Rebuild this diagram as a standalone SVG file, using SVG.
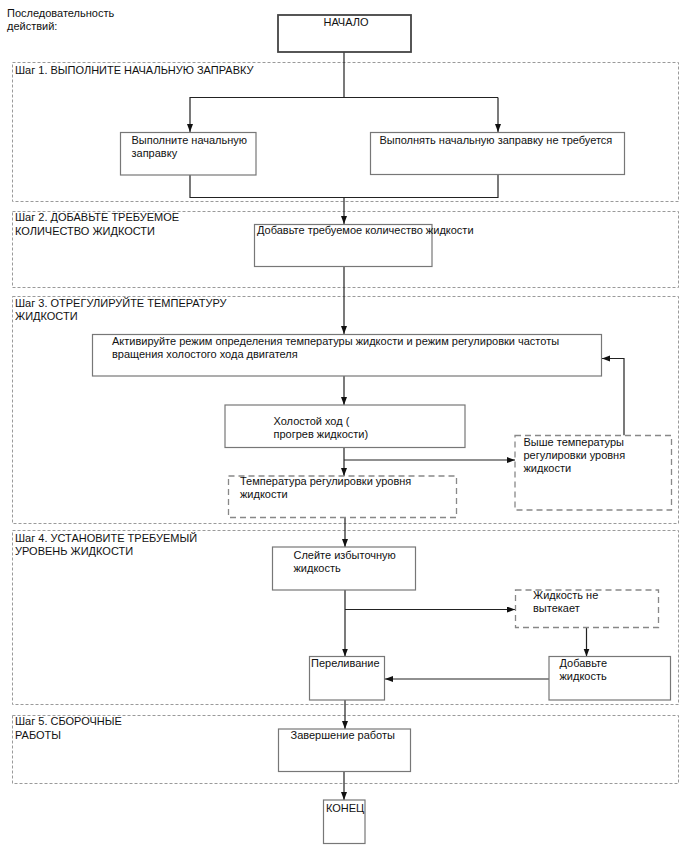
<svg xmlns="http://www.w3.org/2000/svg" width="688" height="852" viewBox="0 0 688 852">
<defs>
<marker id="arr" markerWidth="9" markerHeight="7" refX="8" refY="3" orient="auto" markerUnits="userSpaceOnUse">
<path d="M0,0 L8,3 L0,6 z" fill="#111"/>
</marker>
<style>
text{font-family:"Liberation Sans",Arial,sans-serif;font-size:11px;fill:#111}
.step{fill:none;stroke:#9a9a9a;stroke-width:1;stroke-dasharray:3,2}
.node{fill:#fff;stroke:#777;stroke-width:1.2}
.dnode{fill:#fff;stroke:#888;stroke-width:1.3;stroke-dasharray:6,4}
.start{fill:#fff;stroke:#444;stroke-width:1.8}
.c{fill:none;stroke:#222;stroke-width:1.2}
.ca{fill:none;stroke:#222;stroke-width:1.2;marker-end:url(#arr)}
</style>
</defs>
<rect width="688" height="852" fill="#fff"/>

<g id="header">
<text x="7" y="17">Последовательность</text>
<text x="7" y="30">действий:</text>
</g>

<g id="step1">
<rect class="step" x="12.5" y="62.5" width="666" height="139"/>
<text x="15" y="74">Шаг 1. ВЫПОЛНИТЕ НАЧАЛЬНУЮ ЗАПРАВКУ</text>
</g>
<g id="step2">
<rect class="step" x="12.5" y="211.5" width="666" height="76"/>
<text x="15" y="221">Шаг 2. ДОБАВЬТЕ ТРЕБУЕМОЕ</text>
<text x="15" y="234.5">КОЛИЧЕСТВО ЖИДКОСТИ</text>
</g>
<g id="step3">
<rect class="step" x="12.5" y="296.5" width="666" height="227"/>
<text x="15" y="307">Шаг 3. ОТРЕГУЛИРУЙТЕ ТЕМПЕРАТУРУ</text>
<text x="15" y="320">ЖИДКОСТИ</text>
</g>
<g id="step4">
<rect class="step" x="12.5" y="530.5" width="666" height="174"/>
<text x="15" y="542">Шаг 4. УСТАНОВИТЕ ТРЕБУЕМЫЙ</text>
<text x="15" y="555">УРОВЕНЬ ЖИДКОСТИ</text>
</g>
<g id="step5">
<rect class="step" x="12.5" y="715.5" width="666" height="68"/>
<text x="15" y="725">Шаг 5. СБОРОЧНЫЕ</text>
<text x="15" y="738.5">РАБОТЫ</text>
</g>

<g id="connectors">
<path class="c" d="M344,52 V97.5 H498"/>
<path class="ca" d="M344,97.5 H190 V132"/>
<path class="ca" d="M498,97.5 V132"/>
<path class="c" d="M190,175 V197.5 H498 V174"/>
<path class="ca" d="M344,197.5 V224"/>
<path class="ca" d="M344,266.5 V334"/>
<path class="ca" d="M344,376 V405"/>
<path class="ca" d="M344,447.5 V476"/>
<path class="ca" d="M344,460 H515"/>
<path class="ca" d="M624,435.5 V358.5 H602"/>
<path class="ca" d="M345,517.5 V547"/>
<path class="ca" d="M345,590 V656.5"/>
<path class="ca" d="M345,609.5 H515"/>
<path class="ca" d="M586.5,627.5 V656.5"/>
<path class="ca" d="M549,679 H385"/>
<path class="ca" d="M345,700 V729"/>
<path class="ca" d="M344,771.5 V800"/>
</g>

<g id="start">
<rect class="start" x="278" y="15" width="133" height="37"/>
<text x="346" y="26" text-anchor="middle">НАЧАЛО</text>
</g>
<g id="n-fill">
<rect class="node" x="120.5" y="132.5" width="135.5" height="42.5"/>
<text x="131.5" y="144">Выполните начальную</text>
<text x="131.5" y="157">заправку</text>
</g>
<g id="n-nofill">
<rect class="node" x="370.5" y="132.5" width="254" height="42"/>
<text x="379.5" y="143.5">Выполнять начальную заправку не требуется</text>
</g>
<g id="n-add">
<rect class="node" x="254.5" y="224.5" width="177.5" height="42"/>
<text x="257" y="234">Добавьте требуемое количество жидкости</text>
</g>
<g id="n-activate">
<rect class="node" x="92.5" y="334.5" width="509" height="41.5"/>
<text x="112" y="345">Активируйте режим определения температуры жидкости и режим регулировки частоты</text>
<text x="112" y="358">вращения холостого хода двигателя</text>
</g>
<g id="n-idle">
<rect class="node" x="225" y="405" width="240" height="42.5"/>
<text x="273.5" y="425">Холостой ход (</text>
<text x="273.5" y="437.5">прогрев жидкости)</text>
</g>
<g id="n-temp">
<rect class="dnode" x="228.5" y="476" width="228" height="41.5"/>
<text x="240" y="485">Температура регулировки уровня</text>
<text x="240" y="498">жидкости</text>
</g>
<g id="n-above">
<rect class="dnode" x="515" y="435.5" width="156.5" height="74.5"/>
<text x="523.5" y="445.5">Выше температуры</text>
<text x="523.5" y="458.5">регулировки уровня</text>
<text x="523.5" y="471.5">жидкости</text>
</g>
<g id="n-drain">
<rect class="node" x="272.5" y="547" width="143" height="43"/>
<text x="293.5" y="558.5">Слейте избыточную</text>
<text x="293.5" y="572">жидкость</text>
</g>
<g id="n-noleak">
<rect class="dnode" x="515.5" y="590" width="143" height="37.5"/>
<text x="533" y="598.5">Жидкость не</text>
<text x="533" y="611.5">вытекает</text>
</g>
<g id="n-overflow">
<rect class="node" x="309.5" y="656.5" width="75" height="43.5"/>
<text x="311" y="666.5">Переливание</text>
</g>
<g id="n-addfluid">
<rect class="node" x="549" y="656.5" width="121.5" height="43.5"/>
<text x="559.5" y="666.5">Добавьте</text>
<text x="559.5" y="680">жидкость</text>
</g>
<g id="n-finish">
<rect class="node" x="278.5" y="729" width="132" height="42.5"/>
<text x="290.5" y="738.5">Завершение работы</text>
</g>
<g id="end">
<rect class="node" x="323.5" y="800" width="41.5" height="43.5"/>
<text x="326" y="812">КОНЕЦ</text>
</g>
</svg>
